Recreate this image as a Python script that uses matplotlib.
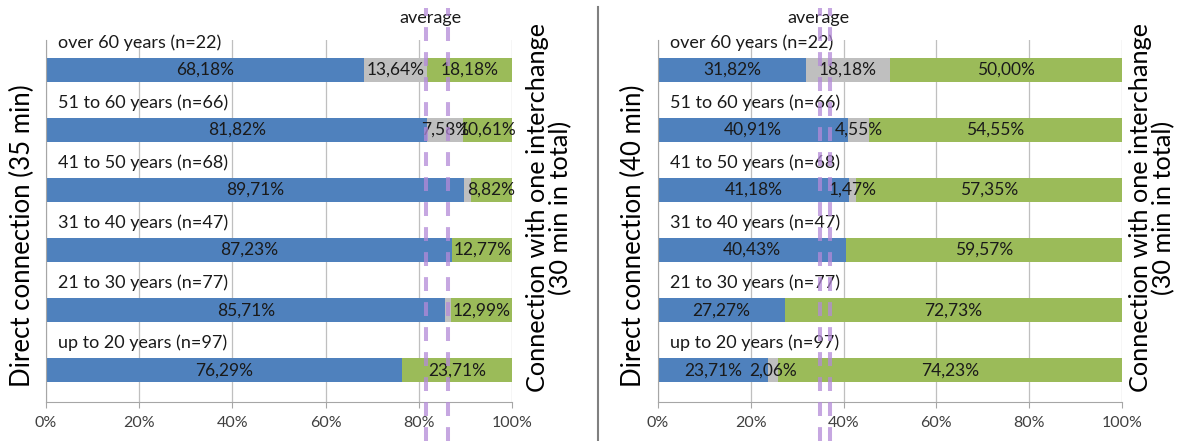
import numpy as np
import matplotlib
matplotlib.use('Agg')
import matplotlib.pyplot as plt
from matplotlib.transforms import blended_transform_factory

plt.rcParams['font.family'] = ['Lato', 'DejaVu Sans']
plt.rcParams['lines.scale_dashes'] = False

# age groups, top to bottom
groups = ['over 60 years (n=22)', '51 to 60 years (n=66)', '41 to 50 years (n=68)',
          '31 to 40 years (n=47)', '21 to 30 years (n=77)', 'up to 20 years (n=97)']

# left: direct connection 35 min
left_direct = [68.18, 81.82, 89.71, 87.23, 85.71, 76.29]
left_grey = [13.64, 7.58, 1.47, 0.0, 1.30, 0.0]
left_change = [18.18, 10.61, 8.82, 12.77, 12.99, 23.71]
left_grey_shown = [True, True, False, False, False, False]
left_avg = [81.5, 86.2]

# right: direct connection 40 min
right_direct = [31.82, 40.91, 41.18, 40.43, 27.27, 23.71]
right_grey = [18.18, 4.55, 1.47, 0.0, 0.0, 2.06]
right_change = [50.00, 54.55, 57.35, 59.57, 72.73, 74.23]
right_grey_shown = [True, True, True, False, False, True]
right_avg = [35.0, 37.0]

BLUE = '#4F81BD'
GREY = '#BFBFBF'
GREEN = '#9BBB59'
AVG = '#B48AD8'
TXT = '#1A1A1A'

W, H = 1187, 441
fig = plt.figure(figsize=(W / 100, H / 100), dpi=100)


def pct(v):
    return f'{v:.2f}%'.replace('.', ',')


def draw_panel(x0, x1, direct, grey, change, grey_shown, avg, avg_text_x,
               left_label, label_x, right_label_x):
    ax = fig.add_axes([x0 / W, (H - 402) / H, (x1 - x0) / W, 362 / H])
    y = np.arange(len(groups))
    direct = np.array(direct)
    grey = np.array(grey)
    change = np.array(change)

    ax.barh(y, direct, height=0.4, color=BLUE, zorder=2)
    ax.barh(y, grey, left=direct, height=0.4, color=GREY, zorder=2)
    ax.barh(y, change, left=direct + grey, height=0.4, color=GREEN, zorder=2)

    for i in range(len(groups)):
        ax.text(direct[i] / 2, y[i], pct(direct[i]), ha='center', va='center',
                fontsize=12.5, color=TXT, zorder=3)
        if grey[i] > 0 and grey_shown[i]:
            ax.text(direct[i] + grey[i] / 2, y[i], pct(grey[i]), ha='center',
                    va='center', fontsize=12.5, color=TXT, zorder=3)
        ax.text(direct[i] + grey[i] + change[i] / 2, y[i], pct(change[i]),
                ha='center', va='center', fontsize=12.5, color=TXT, zorder=3)
        ax.text(2.5, y[i] - 0.45, groups[i], ha='left', va='center',
                fontsize=13, color=TXT, zorder=3)

    ax.set_xlim(0, 100)
    ax.set_ylim(5.53, -0.5)
    ax.set_yticks([])
    ax.set_xticks(np.arange(0, 101, 20))
    ax.set_xticklabels([f'{v}%' for v in range(0, 101, 20)], fontsize=11.5,
                       color='#404040')
    ax.tick_params(axis='x', length=4, color='#A6A6A6', pad=6)
    ax.grid(axis='x', color='#BFBFBF', linewidth=0.9, zorder=0)
    for side in ['top', 'right']:
        ax.spines[side].set_visible(False)
    ax.spines['left'].set_color('#A6A6A6')
    ax.spines['bottom'].set_color('#A6A6A6')

    # average markers run past the plot area
    tr = blended_transform_factory(ax.transData, fig.transFigure)
    for a in avg:
        ax.plot([a, a], [0, 1 - 8 / H], transform=tr, clip_on=False,
                color=AVG, alpha=0.75, linewidth=2.9, linestyle=(0, (10, 8)),
                solid_capstyle='butt', dash_capstyle='butt', zorder=4)
    ax.text(avg_text_x, 1 - 18 / H, 'average', transform=tr, ha='center',
            va='center', fontsize=13, color=TXT)

    fig.text(label_x / W, (H - 236) / H, left_label, rotation=90, ha='center',
             va='center', fontsize=18.5, color='black')
    fig.text(right_label_x / W, (H - 208) / H,
             'Connection with one interchange\n(30 min in total)', rotation=90,
             ha='center', va='center', fontsize=18.2, color='black',
             multialignment='center', linespacing=1.0)
    return ax


draw_panel(46, 512, left_direct, left_grey, left_change, left_grey_shown,
           left_avg, 82.5, 'Direct connection (35 min)', 22, 549)
draw_panel(658, 1122, right_direct, right_grey, right_change, right_grey_shown,
           right_avg, 34.5, 'Direct connection (40 min)', 633, 1152)

# divider between the two panels
fig.add_artist(plt.Line2D([598 / W, 598 / W], [0, 1 - 7 / H], color='#808080',
                          linewidth=1.5))

fig.savefig('out.png', dpi=100)
